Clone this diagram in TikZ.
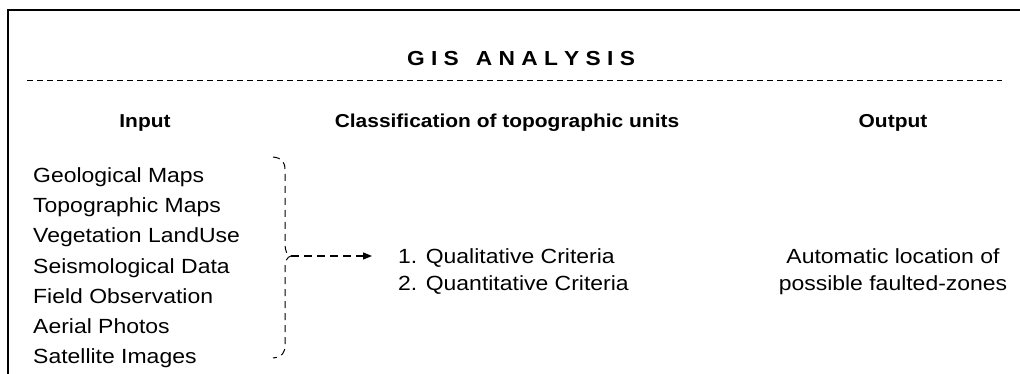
\documentclass[tikz,border=0pt]{standalone}
\usepackage{fontspec}
\setmainfont{Liberation Sans}[FakeStretch=1.12]
\usetikzlibrary{arrows.meta}
\begin{document}
\begin{tikzpicture}[x=1pt,y=-1pt,
    every node/.style={inner sep=0pt},
    head/.style={font=\fontsize{18.7}{23}\selectfont\bfseries, anchor=base},
    titletext/.style={font=\fontsize{20.3}{24}\selectfont\bfseries, anchor=base},
    item/.style={font=\fontsize{20.5}{24}\selectfont, anchor=base west},
    outtext/.style={font=\fontsize{20.5}{24}\selectfont, anchor=base},
    rule/.style={line width=0.9pt, dash pattern=on 6pt off 4pt},
    bracedash/.style={line width=1pt, dash pattern=on 7pt off 5pt},
    flow/.style={line width=1.3pt, dash pattern=on 8pt off 5pt,
      -{Triangle[length=9pt,width=7pt]}}]
\useasboundingbox (0,0) rectangle (1020,374);

% Frame (top and left only)
\draw [line width=1.2pt] (8,374) -- (8,10) -- (1020,10);

% Title and dashed rule
\node [titletext] (title) at (521,66) {G I S\hspace{17pt}A N A L Y S I S};
\draw [rule] (27,80) -- (1002,80);

% Column headers
\node [head] (hinput) at (145,128) {Input};
\node [head] (hclass) at (507,128) {Classification of topographic units};
\node [head] (houtput) at (893,128) {Output};

% Input list
\node [item] (geo) at (33,183) {Geological Maps};
\node [item] (topo) at (33,213) {Topographic Maps};
\node [item] (veg) at (33,243) {Vegetation LandUse};
\node [item] (seis) at (33,273) {Seismological Data};
\node [item] (field) at (33,303) {Field Observation};
\node [item] (aerial) at (33,333) {Aerial Photos};
\node [item] (sat) at (33,363) {Satellite Images};

% Dashed brace round the inputs
\coordinate (tip) at (291,256);
\draw [bracedash] (273,157) .. controls (282,158) and (285,162) .. (285,170)
  -- (285,244) .. controls (285,251) and (287,255) .. (tip)
  .. controls (287,257) and (285,261) .. (285,268)
  -- (285,345) .. controls (285,353) and (282,357) .. (273,358);

% Criteria
\node [item] (crit1) at (398,263) {1. Qualitative Criteria};
\node [item] (crit2) at (398,290) {2. Quantitative Criteria};
\draw [flow] (tip) -- (tip -| crit1.west) [shorten >=26pt];

% Output
\node [outtext] (out1) at (893,263) {Automatic location of};
\node [outtext] (out2) at (893,290) {possible faulted-zones};
\end{tikzpicture}
\end{document}
